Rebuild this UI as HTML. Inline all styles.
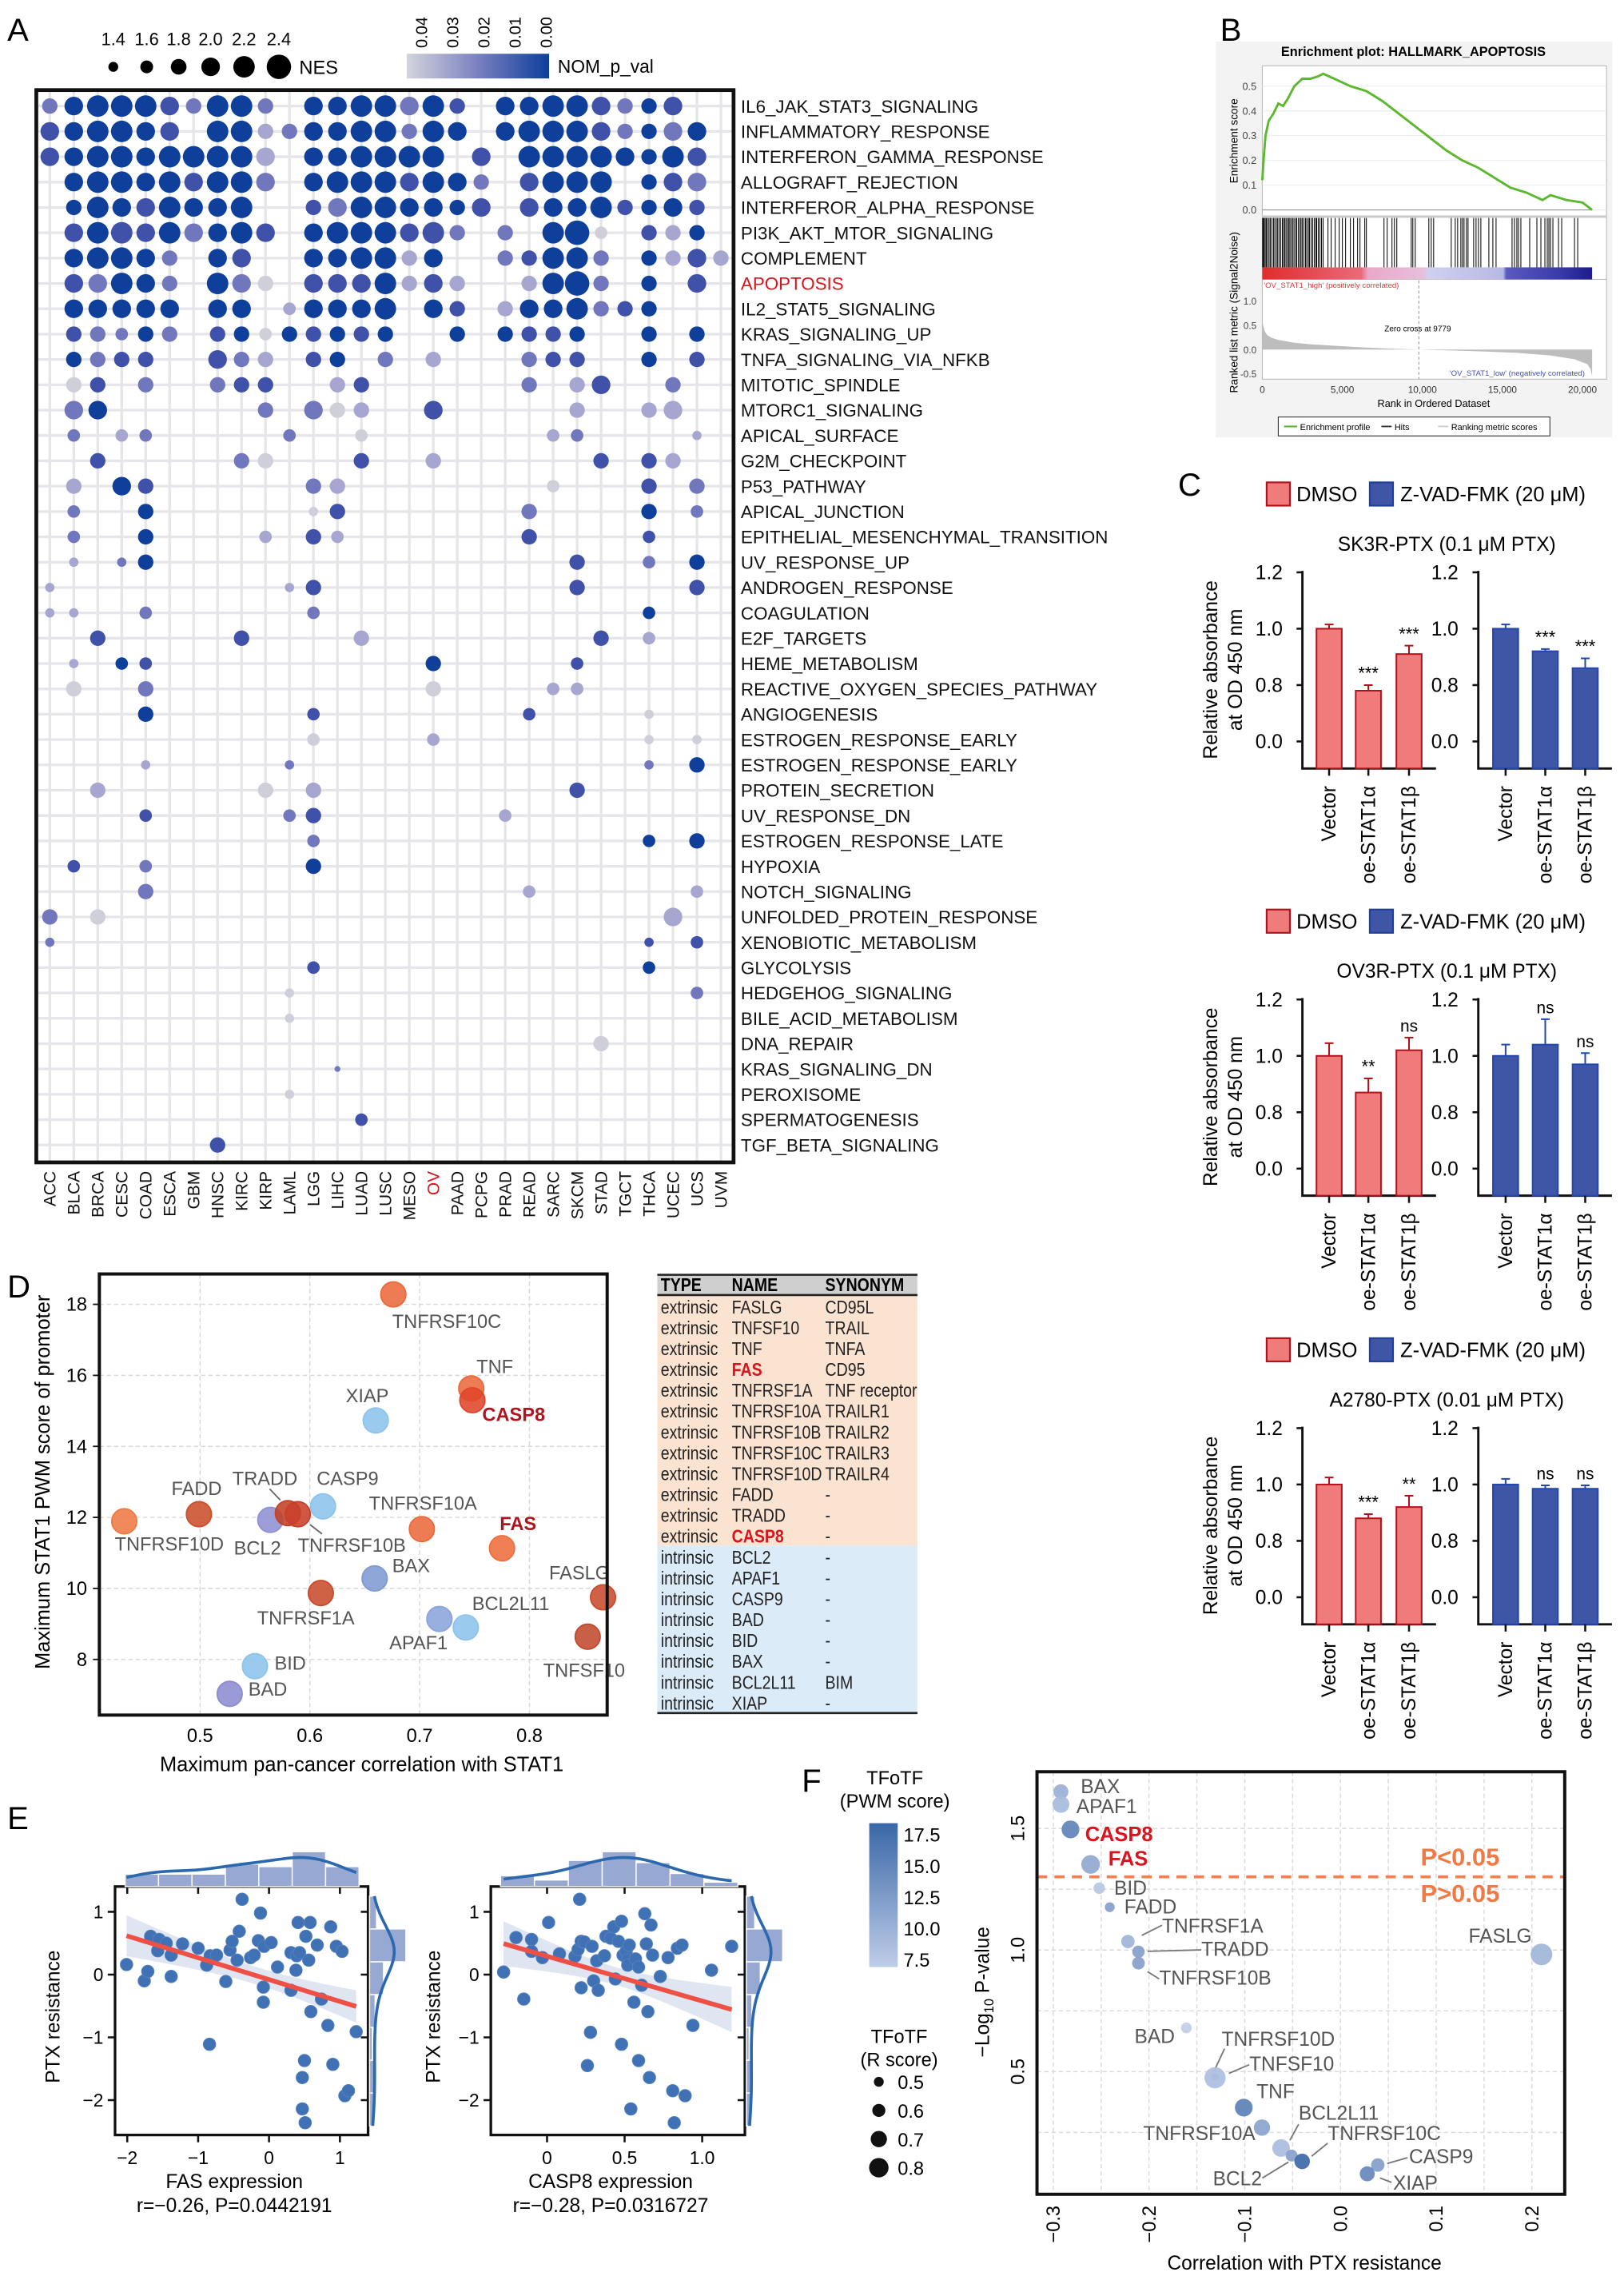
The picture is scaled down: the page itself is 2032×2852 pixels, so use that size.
<!DOCTYPE html>
<html><head><meta charset="utf-8"><title>Figure</title>
<style>
html,body{margin:0;padding:0;background:#fff;}
svg{display:block;font-family:"Liberation Sans",Arial,sans-serif;}
</style></head>
<body>
<svg id="fig" xmlns="http://www.w3.org/2000/svg" width="2032" height="2852" viewBox="0 0 1118 1569.2" preserveAspectRatio="none">
<defs>
<linearGradient id="pvalGrad" x1="0" x2="1" y1="0" y2="0"><stop offset="0" stop-color="#d4d4dc"/><stop offset="0.5" stop-color="#7a80c0"/><stop offset="1" stop-color="#0d3f9b"/></linearGradient>
<linearGradient id="rankGrad" x1="0" x2="1" y1="0" y2="0">
<stop offset="0" stop-color="#e02c2c"/><stop offset="0.3" stop-color="#ea6a7a"/><stop offset="0.32" stop-color="#eba7c8"/><stop offset="0.49" stop-color="#e6c0dc"/><stop offset="0.5" stop-color="#d0d0f0"/><stop offset="0.73" stop-color="#b8b8e6"/><stop offset="0.74" stop-color="#5a5ac0"/><stop offset="0.9" stop-color="#3a3aaa"/><stop offset="1" stop-color="#1c1c8c"/></linearGradient>
<linearGradient id="pwmGrad" x1="0" x2="0" y1="1" y2="0"><stop offset="0" stop-color="#bfcde8"/><stop offset="1" stop-color="#3a67a7"/></linearGradient>
</defs>
<text x="5" y="28" font-size="22">A</text>
<text x="840" y="28" font-size="22">B</text>
<text x="811" y="341" font-size="22">C</text>
<text x="5" y="893" font-size="22">D</text>
<text x="5" y="1259" font-size="22">E</text>
<text x="552" y="1233" font-size="22">F</text>
<g id="gA"></g>
<g id="gB"></g>
<g id="gC"></g>
<g id="gD"></g>
<g id="gT"></g>
<g id="gE"></g>
<g id="gF"></g>
</svg>
<script>
const NS='http://www.w3.org/2000/svg';
function mk(tag,attrs,parent){const e=document.createElementNS(NS,tag);for(const k in attrs)e.setAttribute(k,attrs[k]);parent.appendChild(e);return e;}
function tx(str,attrs,parent){const e=mk('text',attrs,parent);e.textContent=str;return e;}

/* ================= PANEL A DATA ================= */
const pathways=['IL6_JAK_STAT3_SIGNALING','INFLAMMATORY_RESPONSE','INTERFERON_GAMMA_RESPONSE','ALLOGRAFT_REJECTION','INTERFEROR_ALPHA_RESPONSE','PI3K_AKT_MTOR_SIGNALING','COMPLEMENT','APOPTOSIS','IL2_STAT5_SIGNALING','KRAS_SIGNALING_UP','TNFA_SIGNALING_VIA_NFKB','MITOTIC_SPINDLE','MTORC1_SIGNALING','APICAL_SURFACE','G2M_CHECKPOINT','P53_PATHWAY','APICAL_JUNCTION','EPITHELIAL_MESENCHYMAL_TRANSITION','UV_RESPONSE_UP','ANDROGEN_RESPONSE','COAGULATION','E2F_TARGETS','HEME_METABOLISM','REACTIVE_OXYGEN_SPECIES_PATHWAY','ANGIOGENESIS','ESTROGEN_RESPONSE_EARLY','ESTROGEN_RESPONSE_EARLY','PROTEIN_SECRETION','UV_RESPONSE_DN','ESTROGEN_RESPONSE_LATE','HYPOXIA','NOTCH_SIGNALING','UNFOLDED_PROTEIN_RESPONSE','XENOBIOTIC_METABOLISM','GLYCOLYSIS','HEDGEHOG_SIGNALING','BILE_ACID_METABOLISM','DNA_REPAIR','KRAS_SIGNALING_DN','PEROXISOME','SPERMATOGENESIS','TGF_BETA_SIGNALING'];
const cancers=['ACC','BLCA','BRCA','CESC','COAD','ESCA','GBM','HNSC','KIRC','KIRP','LAML','LGG','LIHC','LUAD','LUSC','MESO','OV','PAAD','PCPG','PRAD','READ','SARC','SKCM','STAD','TGCT','THCA','UCEC','UCS','UVM'];
const nesLevels=[
"3455543553.4455453.44554334.","445544.55334455354.455543344.","4455455554.445555.4.55554354.",".455454554.45554543.4555.344.",
".35445445..34554434.44453343.",".455454454.4555453.3.562.333.",".45543.44..445534..33553.3343",".44543.543.4445343..3563.3.4.",
".44444.44.24445.43.3445333...",".33233.33233333..3.3333..3.3.",".3333..433.33.3.3...333..3.3.",".33.3..333..33......3.34..3..",
".44......3.433..4.....3..34..",".2.22.....2..2.......22....1.","..3.....33...3..3......3.33..",".3.43......33........2...3.3.",
".2..3......13.......3....3.2.",".2..3....2.32.......3....2...",".1.13.................3..2.3.","1.........13..........3....3.",
"11..2......2.............2...","..3.....3....3.........3.2...",".1.22...........3.....2......",".3..3...........3....22......",
"....3......2........2....1...","...........2....2........1.1.","....1.....1..............1.3.","..3......3.3..........3......",
"....2.....23.......2.........","...........2.............2.3.",".2..2......3.................","....3...............2......2.",
"3.3.......................4..","1........................1.2.","...........2.............2...","..........1................2.",
"..........1..................",".......................3.....","............0................","..........1..................",
".............2...............",".......3....................."];
const pvalLevels=[
"2444432442.4444243.444432433.","344443.44124444244.444432424.","3444444441.444444.3.44444443.",".444443442.44443442.3444.432.",
".44434444..32444443.34443443.",".343342443.4444332.2.440.314.",".44442.43..444414..23442.4131",".32442.420.3334131..1442.4.3.",
".44444.44.14444.43.1444234...",".32242.34043434..4.4334..4.4.",".4233..321.34.2.1...233..4.3.",".03.2..233..13......2.13..2..",
".24......2.201..3.....1..11..",".2.12.....2..0.......12....1.","..3.....20...3..1......3.31..",".1.43......21........0...3.2.",
".2..4......03.......2....4.2.",".2..4....1.31.......3....3...",".1.24.................3..2.4.","1.........13..........3....3.",
"11..2......2.............4...","..3.....3....1.........3.1...",".1.43...........4.....3......",".0..2...........0....11......",
"....4......3........3....0...","...........0....1........0.0.","....1.....2..............2.4.","..1......0.1..........3......",
"....3.....23.......1.........","...........2.............4.4.",".3..2......4.................","....2...............1......1.",
"2.0.......................1..","2........................3.3.","...........3.............4...","..........0................2.",
"..........0..................",".......................0.....","............2................","..........0..................",
".............3...............",".......3....................."];
const nesLegend=['1.4','1.6','1.8','2.0','2.2','2.4'];
const pvalTicks=['0.04','0.03','0.02','0.01','0.00'];

/* ================= PANEL B DATA ================= */
const esRank=[0,100,200,400,700,1000,1300,1600,2000,2500,3000,3500,3800,4500,5500,6500,7500,8500,9500,10500,11500,12500,13500,14500,15500,16500,17500,18000,19000,20000,20600];
const esScore=[0.12,0.22,0.30,0.36,0.39,0.43,0.42,0.45,0.50,0.53,0.53,0.54,0.55,0.53,0.50,0.48,0.44,0.39,0.34,0.29,0.24,0.20,0.17,0.13,0.09,0.07,0.04,0.06,0.04,0.03,0.0];
const hitRanks=[20,60,110,180,250,330,420,500,600,700,780,880,960,1050,1150,1250,1320,1400,1480,1560,1650,1720,1800,1900,1980,2080,2150,2250,2350,2420,2500,2600,2700,2780,2880,2950,3050,3150,3250,3350,3400,3500,3600,3700,3800,4100,4300,4550,4800,5000,5200,5500,5700,5950,6100,6400,6500,7600,7800,8100,8250,8400,9300,9400,9550,10400,10550,10700,11800,12050,12200,12400,12500,12600,12750,12850,13200,13350,13500,13650,14150,14400,14600,15600,15750,15900,16000,16150,16700,17150,17400,17650,17800,17900,18000,18150,18500,18700,19500,19700];
const metricRank=[0,50,150,300,600,1000,2000,3000,4000,6000,8000,9779,12000,14000,16000,18000,19500,20300,20500,20600];
const metricVal=[0.65,0.5,0.38,0.3,0.24,0.2,0.14,0.11,0.09,0.05,0.02,0,-0.02,-0.04,-0.07,-0.12,-0.2,-0.3,-0.4,-0.55];
const esTicks=[0.0,0.1,0.2,0.3,0.4,0.5];
const rankTicks=[0,5000,10000,15000,20000];
const rankTickLabels=['0','5,000','10,000','15,000','20,000'];
const metricTicks=[1.0,0.5,0.0,-0.5];

/* ================= PANEL C DATA ================= */
const cCats=['Vector','oe-STAT1\u03b1','oe-STAT1\u03b2'];
const cTitles=['SK3R-PTX (0.1 \u03bcM PTX)','OV3R-PTX (0.1 \u03bcM PTX)','A2780-PTX (0.01 \u03bcM PTX)'];
const dmsoMeans=[[1.0,0.78,0.91],[1.0,0.87,1.02],[1.0,0.88,0.92]];
const dmsoErr=[[0.015,0.02,0.03],[0.045,0.05,0.045],[0.025,0.015,0.04]];
const zvadMeans=[[1.0,0.92,0.86],[1.0,1.04,0.97],[1.0,0.985,0.985]];
const zvadErr=[[0.015,0.008,0.035],[0.04,0.09,0.04],[0.02,0.012,0.012]];
const dmsoSig=[['','***','***'],['','**','ns'],['','***','**']];
const zvadSig=[['','***','***'],['','ns','ns'],['','ns','ns']];
const cTickVals=[1.2,1.0,0.8,0.6];
const cTickLabels=['1.2','1.0','0.8','0.0'];

/* ================= PANEL D DATA ================= */
const dGenes=['TNFRSF10C','TNF','CASP8','XIAP','FADD','TNFRSF10D','BCL2','TRADD','TNFRSF10B','CASP9','TNFRSF10A','FAS','BAX','TNFRSF1A','FASLG','APAF1','BCL2L11','TNFSF10','BID','BAD'];
const dCorr=[0.676,0.747,0.748,0.660,0.499,0.431,0.564,0.580,0.589,0.612,0.702,0.775,0.659,0.610,0.867,0.718,0.742,0.853,0.550,0.527];
const dPwm=[18.28,15.63,15.30,14.73,12.09,11.89,11.93,12.12,12.09,12.31,11.67,11.13,10.28,9.87,9.75,9.14,8.90,8.64,7.81,7.03];
const dXTicks=[0.5,0.6,0.7,0.8];
const dYTicks=[8,10,12,14,16,18];
const tableType=['extrinsic','extrinsic','extrinsic','extrinsic','extrinsic','extrinsic','extrinsic','extrinsic','extrinsic','extrinsic','extrinsic','extrinsic','intrinsic','intrinsic','intrinsic','intrinsic','intrinsic','intrinsic','intrinsic','intrinsic'];
const tableName=['FASLG','TNFSF10','TNF','FAS','TNFRSF1A','TNFRSF10A','TNFRSF10B','TNFRSF10C','TNFRSF10D','FADD','TRADD','CASP8','BCL2','APAF1','CASP9','BAD','BID','BAX','BCL2L11','XIAP'];
const tableSyn=['CD95L','TRAIL','TNFA','CD95','TNF receptor','TRAILR1','TRAILR2','TRAILR3','TRAILR4','-','-','-','-','-','-','-','-','-','BIM','-'];

/* ================= PANEL E DATA ================= */
const fasExpr=[-2.01,-1.76,-1.71,-1.67,-1.55,-1.57,-1.45,-1.38,-1.38,-1.22,-1.0,-0.88,-0.84,-0.83,-0.74,-0.61,-0.55,-0.52,-0.45,-0.42,-0.38,-0.26,-0.21,-0.15,-0.12,-0.07,-0.08,-0.08,0.03,0.12,0.31,0.31,0.38,0.39,0.41,0.43,0.47,0.47,0.50,0.51,0.52,0.56,0.58,0.59,0.68,0.74,0.83,0.87,0.90,0.95,1.03,1.07,1.12,1.23];
const fasRes=[0.16,-0.10,0.05,0.61,0.56,0.38,0.50,0.31,-0.03,0.49,0.42,0.15,-1.11,0.30,0.31,-0.11,0.39,0.53,0.23,0.69,1.20,0.27,0.31,0.54,0.98,0.45,-0.20,-0.44,0.51,0.12,0.35,-0.25,0.07,0.30,0.83,0.35,-1.64,-2.14,-1.37,-2.36,0.61,0.23,0.83,-0.59,0.47,-0.39,-0.81,0.76,-1.43,0.45,0.37,-1.93,-1.85,-0.91];
const casp8Expr=[-0.28,-0.20,-0.15,-0.10,-0.10,-0.03,0.01,0.08,0.18,0.20,0.21,0.22,0.22,0.24,0.26,0.28,0.29,0.30,0.32,0.33,0.37,0.38,0.41,0.43,0.44,0.46,0.48,0.48,0.49,0.51,0.52,0.52,0.53,0.54,0.56,0.57,0.59,0.59,0.61,0.63,0.64,0.65,0.66,0.67,0.68,0.73,0.78,0.81,0.82,0.84,0.87,0.89,0.94,1.06,1.19];
const casp8Res=[0.04,0.59,-0.39,0.56,0.37,0.27,0.83,0.33,0.29,0.40,1.20,-0.21,0.53,0.52,-1.45,-0.92,0.45,-0.10,0.22,-0.25,0.30,0.61,0.58,0.76,-0.07,0.53,0.85,-1.11,0.31,0.37,0.23,0.15,0.47,-2.14,-0.44,0.25,-1.37,0.12,-0.17,0.97,0.49,-0.59,-1.64,0.79,0.31,-0.03,0.27,-1.85,-2.36,0.42,0.47,-1.93,-0.81,0.07,0.45];
const fasXTicks=[-2,-1,0,1];
const fasXLabels=['\u22122','\u22121','0','1'];
const casp8XTicks=[0,0.5,1.0];
const casp8XLabels=['0','0.5','1.0'];
const resTicks=[1,0,-1,-2];
const resLabels=['1','0','\u22121','\u22122'];

/* ================= PANEL F DATA ================= */
const fGenes=['BAX','APAF1','CASP8','FAS','BID','FADD','TNFRSF1A','TRADD','TNFRSF10B','FASLG','BAD','TNFRSF10D','TNFSF10','TNF','TNFRSF10A','BCL2L11','BCL2','TNFRSF10C','CASP9','XIAP'];
const fCorrPTX=[-0.292,-0.292,-0.282,-0.261,-0.252,-0.241,-0.222,-0.211,-0.211,0.210,-0.161,-0.131,-0.131,-0.101,-0.082,-0.062,-0.051,-0.040,0.039,0.028];
const fNegLogP=[1.651,1.599,1.496,1.352,1.254,1.176,1.035,0.993,0.946,0.982,0.680,0.479,0.475,0.352,0.270,0.186,0.155,0.131,0.116,0.080];
const fXTicks=[-0.3,-0.2,-0.1,0.0,0.1,0.2];
const fXLabels=['\u22120.3','\u22120.2','\u22120.1','0.0','0.1','0.2'];
const fYTicks=[0.5,1.0,1.5];
const pwmLegendTicks=[7.5,10.0,12.5,15.0,17.5];
const rLegendTicks=[0.5,0.6,0.7,0.8];

/* ================= DRAW PANEL A ================= */
(function(){
const g=document.getElementById('gA');
const colX=i=>34.3+16.5*i, rowY=j=>73+17.44*j;
const rad=[2,3.2,4.3,5.3,6.4,7.4,8.4];
const cols=['#cfcfda','#a6a6d0','#7177bd','#3f51a8','#0d3f9b'];
for(let i=0;i<cancers.length;i++){const l=mk('line',{x1:colX(i),x2:colX(i),y1:62,y2:800,stroke:'#e5e5ea','stroke-width':1.8},g);

}
for(let j=0;j<pathways.length;j++){const l=mk('line',{x1:25,x2:505,y1:rowY(j),y2:rowY(j),stroke:'#e5e5ea','stroke-width':1.8},g);

}
for(let j=0;j<pathways.length;j++){
 for(let i=0;i<cancers.length;i++){
  const s=nesLevels[j].charAt(i); if(s===''||s==='.')continue;
  const p=pvalLevels[j].charAt(i); const ci=(p===''||p==='.')?2:+p;
  const c=mk('circle',{cx:colX(i),cy:rowY(j),r:rad[+s],fill:cols[ci]},g);
  
  
 }
 const t=tx(pathways[j],{x:510,y:rowY(j)+4.5,'font-size':12.3,fill:pathways[j]==='APOPTOSIS'?'#d8141c':'#111'},g);
 
 
}
const box=mk('rect',{x:25,y:62,width:480,height:738,fill:'none',stroke:'#111','stroke-width':2.6},g);


for(let i=0;i<cancers.length;i++){
 const t=tx(cancers[i],{x:0,y:0,'font-size':11.5,'text-anchor':'end',transform:`translate(${colX(i)+4},806) rotate(-90)`,fill:cancers[i]==='OV'?'#d8141c':'#111'},g);
 
 
}
const lx=[78,101,123,145,168,192];
for(let k=0;k<nesLegend.length;k++){
 const c=mk('circle',{cx:lx[k],cy:46,r:[3.4,4.4,5.4,6.4,7.4,8.4][k],fill:'#000'},g);
 
 
 const t=tx(nesLegend[k],{x:lx[k],y:31,'font-size':12,'text-anchor':'middle'},g);
 
 
}
const nt=tx('NES',{x:206,y:51,'font-size':13},g);


const cb=mk('rect',{x:280,y:37,width:98,height:17,fill:'url(#pvalGrad)'},g);


for(let k=0;k<pvalTicks.length;k++){
 const x=290+k*21.5;
 const t=tx(pvalTicks[k],{x:0,y:0,'font-size':11,transform:`translate(${x+4},33) rotate(-90)`},g);
 
 
}
const pt=tx('NOM_p_val',{x:384,y:50,'font-size':12.5},g);


})();

/* ================= DRAW PANEL B ================= */
(function(){
const g=document.getElementById('gB');
const X=r=>869+r*0.011022, Y=v=>144.5-v*170.4, M=v=>240.6-v*33.4;
const bg=mk('rect',{x:837,y:28.6,width:273,height:272.4,fill:'#f3f3f3'},g);


const t=tx('Enrichment plot: HALLMARK_APOPTOSIS',{x:973,y:38.5,'font-size':9,'font-weight':'bold','text-anchor':'middle'},g);


const top=mk('rect',{x:869,y:45.3,width:237,height:103.3,fill:'#fff',stroke:'#bbb','stroke-width':0.6},g);


const mid=mk('rect',{x:869,y:149.5,width:237,height:42.8,fill:'#fff',stroke:'#bbb','stroke-width':0.6},g);


const bot=mk('rect',{x:869,y:192.3,width:237,height:68.7,fill:'#fff',stroke:'#bbb','stroke-width':0.6},g);


for(const v of esTicks){
 const l=mk('line',{x1:869,x2:1106,y1:Y(v),y2:Y(v),stroke:'#e8e8e8','stroke-width':0.5},g);
 
 
 const tt=tx(v.toFixed(1),{x:865,y:Y(v)+2.5,'font-size':7,'text-anchor':'end',fill:'#444'},g);
 
 
}
let d='';
for(let k=0;k<esRank.length;k++)d+=(k?'L':'M')+X(esRank[k]).toFixed(2)+','+Y(esScore[k]).toFixed(2);
const es=mk('path',{d:d,fill:'none',stroke:'#5cb82e','stroke-width':1.6},g);


const z=mk('line',{x1:869,x2:1095,y1:Y(0),y2:Y(0),stroke:'#888','stroke-width':0.6},g);


for(const r of hitRanks){
 const l=mk('line',{x1:X(r),x2:X(r),y1:150,y2:184,stroke:'#111','stroke-width':0.6},g);
 
 
}
const rb=mk('rect',{x:869,y:184,width:X(20600)-869,height:8.3,fill:'url(#rankGrad)'},g);


let md='M'+X(0)+','+M(0);
for(let k=0;k<metricRank.length;k++)md+='L'+X(metricRank[k]).toFixed(2)+','+M(metricVal[k]).toFixed(2);
md+='L'+X(20600)+','+M(0)+'Z';
const mp=mk('path',{d:md,fill:'#bdbdbd'},g);


for(const v of metricTicks){
 const tt=tx(v.toFixed(1),{x:865,y:M(v)+2.5,'font-size':6.5,'text-anchor':'end',fill:'#444'},g);
 
 
}
const zc=mk('line',{x1:X(9779),x2:X(9779),y1:193,y2:261,stroke:'#999','stroke-width':0.6,'stroke-dasharray':'2,1.5'},g);


const zt=tx('Zero cross at 9779',{x:976,y:228,'font-size':5.5,'text-anchor':'middle'},g);


const hl=tx("'OV_STAT1_high' (positively correlated)",{x:870,y:198,'font-size':5.3,fill:'#e0383a'},g);


const ll=tx("'OV_STAT1_low' (negatively correlated)",{x:1091,y:258.5,'font-size':5.3,fill:'#4452b0','text-anchor':'end'},g);


for(let k=0;k<rankTicks.length;k++){
 const tt=tx(rankTickLabels[k],{x:X(rankTicks[k]),y:270.5,'font-size':6.5,'text-anchor':'middle',fill:'#333'},g);
 
 
}
const xt=tx('Rank in Ordered Dataset',{x:987,y:280,'font-size':7,'text-anchor':'middle'},g);


const y1=tx('Enrichment score',{x:0,y:0,'font-size':7.5,'text-anchor':'middle',transform:'translate(852,97) rotate(-90)'},g);


const y2=tx('Ranked list metric (Signal2Noise)',{x:0,y:0,'font-size':7.5,'text-anchor':'middle',transform:'translate(852,215) rotate(-90)'},g);


const lg=mk('rect',{x:880,y:287,width:187,height:13,fill:'#fff',stroke:'#333','stroke-width':0.6},g);


const l1=mk('line',{x1:884,x2:893,y1:293.5,y2:293.5,stroke:'#5cb82e','stroke-width':1.2},g);


const lt1=tx('Enrichment profile',{x:895,y:296,'font-size':6},g);


const l2=mk('line',{x1:951,x2:958,y1:293.5,y2:293.5,stroke:'#333','stroke-width':1},g);


const lt2=tx('Hits',{x:960,y:296,'font-size':6},g);


const l3=mk('line',{x1:990,x2:997,y1:293.5,y2:293.5,stroke:'#ccc','stroke-width':1},g);


const lt3=tx('Ranking metric scores',{x:999,y:296,'font-size':6},g);


})();

/* ================= DRAW PANEL C ================= */
(function(){
const g=document.getElementById('gC');
const offs=[0,294,589];
const groups=[{ax:896.6,bars:[915,942,970],end:988.6,means:dmsoMeans,err:dmsoErr,sig:dmsoSig,fill:'#ef7c7a',stroke:'#b3121c',name:'dmso',lab:883},
              {ax:1017.7,bars:[1036.5,1063.8,1091.3],end:1109.7,means:zvadMeans,err:zvadErr,sig:zvadSig,fill:'#3f55a6',stroke:'#2347ad',name:'zvad',lab:1004}];
for(let p=0;p<3;p++){
 const o=offs[p];
 const Y=v=>432.7+o-(v-1.0)*194;
 const base=528.9+o;
 const b1=mk('rect',{x:872,y:332+o,width:16,height:16,fill:'#ef7c7a',stroke:'#b3121c','stroke-width':1.2},g);
 
 
 const t1=tx('DMSO',{x:892.5,y:345+o,'font-size':14},g);
 
 
 const b2=mk('rect',{x:943,y:332+o,width:16,height:16,fill:'#3f55a6',stroke:'#1f3f98','stroke-width':1.2},g);
 
 
 const t2=tx('Z-VAD-FMK (20 \u03bcM)',{x:964,y:345+o,'font-size':14},g);
 
 
 const tt=tx(cTitles[p],{x:996,y:379+o,'font-size':13.5,'text-anchor':'middle'},g);
 
 
 const ya=tx('Relative absorbance',{x:0,y:0,'font-size':13.5,'text-anchor':'middle',transform:`translate(838,${461+o}) rotate(-90)`},g);
 
 
 const yb=tx('at OD 450 nm',{x:0,y:0,'font-size':13.5,'text-anchor':'middle',transform:`translate(855,${461+o}) rotate(-90)`},g);
 
 
 for(const G of groups){
  const ax=mk('path',{d:`M${G.ax},${Y(1.2)-1}L${G.ax},${base}L${G.end},${base}`,fill:'none',stroke:'#111','stroke-width':1.6},g);
  
  
  for(let k=0;k<cTickVals.length;k++){
   const tk=mk('line',{x1:G.ax-4,x2:G.ax,y1:Y(cTickVals[k]),y2:Y(cTickVals[k]),stroke:'#111','stroke-width':1.4},g);
   
   
   const tl=tx(cTickLabels[k],{x:G.lab,y:Y(cTickVals[k])+4.8,'font-size':13.5,'text-anchor':'end'},g);
   
   
  }
  for(let b=0;b<3;b++){
   const cx=G.bars[b], v=G.means[p][b], e=G.err[p][b];
   const r=mk('rect',{x:cx-8.7,y:Y(v),width:17.4,height:base-Y(v),fill:G.fill,stroke:G.stroke,'stroke-width':1.1},g);
   
   
   const eb=mk('path',{d:`M${cx},${Y(v)}L${cx},${Y(v+e)}M${cx-3},${Y(v+e)}L${cx+3},${Y(v+e)}`,stroke:G.stroke,'stroke-width':1.1,fill:'none'},g);
   
   
   if(G.sig[p][b]){
    const st=tx(G.sig[p][b],{x:cx,y:Y(v+e)-4,'font-size':G.sig[p][b]==='ns'?11.5:12,'text-anchor':'middle'},g);
    
    
   }
   const xt=mk('line',{x1:cx,x2:cx,y1:base,y2:base+5,stroke:'#111','stroke-width':1.4},g);
   
   
   const cl=tx(cCats[b],{x:0,y:0,'font-size':13.5,'text-anchor':'end',transform:`translate(${cx+4.5},${base+12}) rotate(-90)`},g);
   
   
  }
 }
}
})();

/* ================= DRAW PANEL D ================= */
const dColor={TNFRSF10C:'#ea6a3c',TNF:'#ea6a3c',CASP8:'#e0462a',XIAP:'#8cc4ec',FADD:'#cc4f2c',TNFRSF10D:'#ee7a44',BCL2:'#9090d2',TRADD:'#c24128',TNFRSF10B:'#c8402a',CASP9:'#8cc4ec',TNFRSF10A:'#ea6a3c',FAS:'#ee6e3c',BAX:'#7f9ad4',TNFRSF1A:'#c84c2c',FASLG:'#c84c2c',APAF1:'#8aa4dc',BCL2L11:'#8cc4ec',TNFSF10:'#c04a2e',BID:'#8cc4ec',BAD:'#8c8cd0'};
const dLabelPos={TNFRSF10C:[270,914],TNF:[328,945],CASP8:[332,978],XIAP:[238,965],FADD:[118,1029],TNFRSF10D:[79,1067],BCL2:[161,1070],TRADD:[160,1022],TNFRSF10B:[205,1068],CASP9:[218,1022],TNFRSF10A:[254,1039],FAS:[344,1053],BAX:[270,1082],TNFRSF1A:[177,1118],FASLG:[378,1087],APAF1:[268,1135],BCL2L11:[325,1108],TNFSF10:[374,1154],BID:[189,1149],BAD:[171,1167]};
(function(){
const g=document.getElementById('gD');
const X=v=>137.7+(v-0.5)*756, Y=v=>897.7-(v-18)*24.44;
for(const v of dXTicks){
 const l=mk('line',{x1:X(v),x2:X(v),y1:877,y2:1180,stroke:'#d8d8d8','stroke-width':0.8,'stroke-dasharray':'3,2'},g);
 
 
 const t=tx(v.toFixed(1),{x:X(v),y:1199,'font-size':13,'text-anchor':'middle'},g);
 
 
}
for(const v of dYTicks){
 const l=mk('line',{x1:68.4,x2:418,y1:Y(v),y2:Y(v),stroke:'#d8d8d8','stroke-width':0.8,'stroke-dasharray':'3,2'},g);
 
 
 const tk=mk('line',{x1:64,x2:68.4,y1:Y(v),y2:Y(v),stroke:'#111','stroke-width':1},g);
 
 
 const t=tx(String(v),{x:60,y:Y(v)+4.5,'font-size':13,'text-anchor':'end'},g);
 
 
}
const lines=[[185.6,1024.7,193,1032.5],[213.5,1049.4,221.7,1055.7]];
for(const L of lines){const l=mk('line',{x1:L[0],y1:L[1],x2:L[2],y2:L[3],stroke:'#666','stroke-width':1},g);
 
 }
for(let k=0;k<dGenes.length;k++){
 const c=mk('circle',{cx:X(dCorr[k]),cy:Y(dPwm[k]),r:8.6,fill:dColor[dGenes[k]],'fill-opacity':0.88,stroke:dColor[dGenes[k]],'stroke-width':1},g);
 
 
 const bold=(dGenes[k]==='CASP8'||dGenes[k]==='FAS');
 const p=dLabelPos[dGenes[k]];
 const t=tx(dGenes[k],{x:p[0],y:p[1],'font-size':13,fill:bold?'#b0141e':'#555','font-weight':bold?'bold':'normal'},g);
 
 
}
const box=mk('rect',{x:68.4,y:876.8,width:349.6,height:303.6,fill:'none',stroke:'#111','stroke-width':2.2},g);


const yt=tx('Maximum STAT1 PWM score of promoter',{x:0,y:0,'font-size':14,'text-anchor':'middle',transform:'translate(34,1020) rotate(-90)'},g);


const xt=tx('Maximum pan-cancer correlation with STAT1',{x:249,y:1219,'font-size':14,'text-anchor':'middle'},g);


})();

/* ================= DRAW TABLE ================= */
(function(){
const g=document.getElementById('gT');
const rowB=k=>903.9+k*14.35;
const e=mk('rect',{x:452.5,y:891.3,width:179,height:172.4,fill:'#fbe3d2'},g);


const i=mk('rect',{x:452.5,y:1063.7,width:179,height:115,fill:'#dbebf8'},g);


const h=mk('rect',{x:452.5,y:877.4,width:179,height:13.9,fill:'#cfcfcf'},g);


const heads=[['TYPE',454.9],['NAME',503.8],['SYNONYM',568.1]];
for(const hd of heads){const t=tx(hd[0],{x:0,y:0,'font-size':12.5,'font-weight':'bold',transform:`translate(${hd[1]},888.6) scale(0.86,1)`},g);
 
 }
for(const y of [877.4,891.3,1179]){const l=mk('line',{x1:452.5,x2:631.6,y1:y,y2:y,stroke:'#222','stroke-width':1.4},g);
 
 }
for(let k=0;k<tableName.length;k++){
 const a=tx(tableType[k],{x:0,y:0,'font-size':12.5,fill:'#222',transform:`translate(454.9,${rowB(k)}) scale(0.86,1)`},g);
 
 
 const red=(tableName[k]==='FAS'||tableName[k]==='CASP8');
 const b=tx(tableName[k],{x:0,y:0,'font-size':12.5,fill:red?'#d8141c':'#222','font-weight':red?'bold':'normal',transform:`translate(503.8,${rowB(k)}) scale(0.86,1)`},g);
 
 
 const c=tx(tableSyn[k],{x:0,y:0,'font-size':12.5,fill:'#222',transform:`translate(568.1,${rowB(k)}) scale(0.86,1)`},g);
 
 
}
})();

/* ================= DRAW PANEL E ================= */
(function(){
const g=document.getElementById('gE');
const Y=v=>1359.0-v*43.2;
const top=1298.4, bottom=1469.4;
function plot(xs,ys,X,x0,x1,xTicks,xLabels,title,stat,name,ytx){
 const n=xs.length; let mx=0,my=0; for(let k=0;k<n;k++){mx+=xs[k];my+=ys[k];} mx/=n; my/=n;
 let sxx=0,sxy=0; for(let k=0;k<n;k++){sxx+=(xs[k]-mx)**2;sxy+=(xs[k]-mx)*(ys[k]-my);}
 const b=sxy/sxx,a=my-b*mx; let sse=0; for(let k=0;k<n;k++)sse+=(ys[k]-a-b*xs[k])**2; const s=Math.sqrt(sse/(n-2));
 const xmin=Math.min(...xs),xmax=Math.max(...xs);
 let up='',dn=[];
 for(let q=0;q<=20;q++){const xv=xmin+(xmax-xmin)*q/20; const hw=1.3*s*Math.sqrt(1/n+(xv-mx)**2/sxx); const yv=a+b*xv;
  up+=(q?'L':'M')+X(xv).toFixed(2)+','+Y(yv+hw).toFixed(2); dn.unshift('L'+X(xv).toFixed(2)+','+Y(yv-hw).toFixed(2));}
 const band=mk('path',{d:up+dn.join('')+'Z',fill:'#c9d3e8','fill-opacity':0.6},g);
 
 
 for(let k=0;k<n;k++){
  const c=mk('circle',{cx:X(xs[k]),cy:Y(ys[k]),r:4.3,fill:'#3f71b4',stroke:'#5582c0','stroke-width':0.5},g);
  
  
 }
 const rl=mk('line',{x1:X(xmin),y1:Y(a+b*xmin),x2:X(xmax),y2:Y(a+b*xmax),stroke:'#ee5045','stroke-width':3.2},g);
 
 
 const box=mk('rect',{x:x0,y:top,width:x1-x0,height:bottom-top,fill:'none',stroke:'#111','stroke-width':1.8},g);
 
 
 for(let k=0;k<xTicks.length;k++){
  const xx=X(xTicks[k]);
  const tk=mk('path',{d:`M${xx},${bottom}L${xx},${bottom+5}M${xx},${top}L${xx},${top+5}`,stroke:'#111','stroke-width':1.4},g);
  
  
  const tl=tx(xLabels[k],{x:xx,y:1489.4,'font-size':12.5,'text-anchor':'middle'},g);
  
  
 }
 for(let k=0;k<resTicks.length;k++){
  const yy=Y(resTicks[k]);
  const tk=mk('path',{d:`M${x0-5},${yy}L${x0},${yy}M${x1-5},${yy}L${x1},${yy}`,stroke:'#111','stroke-width':1.4},g);
  
  
  const tl=tx(resLabels[k],{x:x0-8,y:yy+4.5,'font-size':12.5,'text-anchor':'end'},g);
  
  
 }
 const nb=7, hmin=xmin-0.02, bw=(xmax-hmin+0.04)/nb, cnt=new Array(nb).fill(0);
 for(const v of xs){cnt[Math.min(nb-1,Math.floor((v-hmin)/bw))]++;}
 const cmax=Math.max(...cnt);
 for(let q=0;q<nb;q++){
  const h=cnt[q]/cmax*24;
  const r=mk('rect',{x:X(hmin+q*bw),y:top-h,width:X(hmin+(q+1)*bw)-X(hmin+q*bw),height:h,fill:'#97a8d2',stroke:'#fff','stroke-width':0.8},g);
  
  
 }
 const bwK=(xmax-xmin)*0.12; let kd=[],km=0;
 for(let q=0;q<=40;q++){const xv=xmin+(xmax-xmin)*q/40;let sm=0;for(const v of xs)sm+=Math.exp(-0.5*((xv-v)/bwK)**2);kd.push([xv,sm]);km=Math.max(km,sm);}
 const kp=mk('path',{d:kd.map((p,q)=>(q?'L':'M')+X(p[0]).toFixed(2)+','+(top-p[1]/km*18-2).toFixed(2)).join(''),fill:'none',stroke:'#2b68ad','stroke-width':2},g);
 
 
 const ymin=Math.min(...ys)-0.05,ymax=Math.max(...ys)+0.05, rb=(ymax-ymin)/nb, rc=new Array(nb).fill(0);
 for(const v of ys){rc[Math.min(nb-1,Math.floor((v-ymin)/rb))]++;}
 const rmax=Math.max(...rc);
 for(let q=0;q<nb;q++){
  const w=rc[q]/rmax*25;
  const r=mk('rect',{x:x1+1,y:Y(ymin+(q+1)*rb),width:w,height:Y(ymin+q*rb)-Y(ymin+(q+1)*rb),fill:'#97a8d2',stroke:'#fff','stroke-width':0.8},g);
  
  
 }
 const bwY=(ymax-ymin)*0.09; let rk=[],rm=0;
 for(let q=0;q<=40;q++){const yv=ymin+(ymax-ymin)*q/40;let sm=0;for(const v of ys)sm+=Math.exp(-0.5*((yv-v)/bwY)**2);rk.push([yv,sm]);rm=Math.max(rm,sm);}
 const rp=mk('path',{d:rk.map((p,q)=>(q?'L':'M')+(x1+2+p[1]/rm*16).toFixed(2)+','+Y(p[0]).toFixed(2)).join(''),fill:'none',stroke:'#2b68ad','stroke-width':2},g);
 
 
 const xt=tx(title,{x:(x0+x1)/2-5,y:1506,'font-size':13.5,'text-anchor':'middle'},g);
 
 
 const sl=tx(stat,{x:(x0+x1)/2-5,y:1522.5,'font-size':13.5,'text-anchor':'middle'},g);
 
 
 const yt=tx('PTX resistance',{x:0,y:0,'font-size':13.5,'text-anchor':'middle',transform:`translate(${ytx},1388) rotate(-90)`},g);
 
 
}
plot(fasExpr,fasRes,v=>87.6+(v+2)*48.8,79.2,253.4,fasXTicks,fasXLabels,'FAS expression','r=\u22120.26, P=0.0442191','fas',41);
plot(casp8Expr,casp8Res,v=>376.6+v*106.8,337.9,512.8,casp8XTicks,casp8XLabels,'CASP8 expression','r=\u22120.28, P=0.0316727','casp8',303);
})();

/* ================= DRAW PANEL F ================= */
const fLabelPos={BAX:[744,1234],APAF1:[741,1248],CASP8:[747,1267],FAS:[763,1284],BID:[767,1304],FADD:[774,1317],TNFRSF1A:[800,1330],TRADD:[827,1346],TNFRSF10B:[798,1366],FASLG:[1011,1337],BAD:[781,1406],TNFRSF10D:[841,1408],TNFSF10:[860,1425],TNF:[865,1444],TNFRSF10A:[787,1473],BCL2L11:[894,1459],TNFRSF10C:[914,1473],CASP9:[970,1489],BCL2:[835,1504],XIAP:[959,1507]};
(function(){
const g=document.getElementById('gF');
const X=v=>725.1+(v+0.3)*659, Y=v=>1342.1-(v-1.0)*167.4;
const x0=713.9,x1=1077.2,y0=1219.4,y1=1510.2;
const rOf=r=>3.4+(r-0.5)*11, cOf=p=>{const t=Math.max(0,Math.min(1,(p-7)/11.5));const a=[0xc0,0xce,0xe8],b=[0x3a,0x66,0xa6];return 'rgb('+a.map((v,i)=>Math.round(v+(b[i]-v)*t)).join(',')+')';};
for(let v=-0.3;v<=0.2001;v+=0.05){
 const l=mk('line',{x1:X(v),x2:X(v),y1:y0,y2:y1,stroke:'#dadada','stroke-width':0.8,'stroke-dasharray':'3,2'},g);
 
 
}
for(let v=0.25;v<=1.5001;v+=0.25){
 const l=mk('line',{x1:x0,x2:x1,y1:Y(v),y2:Y(v),stroke:'#dadada','stroke-width':0.8,'stroke-dasharray':'3,2'},g);
 
 
}
const th=mk('line',{x1:x0,x2:x1,y1:Y(-Math.log10(0.05)),y2:Y(-Math.log10(0.05)),stroke:'#f08050','stroke-width':2,'stroke-dasharray':'7,5'},g);


const pl=tx('P<0.05',{x:978,y:1284,'font-size':17,'font-weight':'bold',fill:'#f07a45'},g);


const pg=tx('P>0.05',{x:978,y:1309,'font-size':17,'font-weight':'bold',fill:'#f07a45'},g);


const leaders=[[786,1332,800,1325],[790,1343,827,1342],[790,1357,798,1362],[843,1410,836,1425],[846,1427,860,1421],[894,1462,888,1473],[914,1475,903,1484],[969,1485,955,1489],[869,1499,887,1488],[950,1499,958,1502]];
for(const L of leaders){const l=mk('line',{x1:L[0],y1:L[1],x2:L[2],y2:L[3],stroke:'#777','stroke-width':1},g);
 
 }
for(let k=0;k<fGenes.length;k++){
 const di=dGenes.indexOf(fGenes[k]);
 const c=mk('circle',{cx:X(fCorrPTX[k]),cy:Y(fNegLogP[k]),r:rOf(dCorr[di]),fill:cOf(dPwm[di]),'fill-opacity':0.92},g);
 
 
 const bold=(fGenes[k]==='CASP8'||fGenes[k]==='FAS');
 const p=fLabelPos[fGenes[k]];
 const t=tx(fGenes[k],{x:p[0],y:p[1],'font-size':bold?14:13.5,fill:bold?'#d8141c':'#555','font-weight':bold?'bold':'normal'},g);
 
 
}
const box=mk('rect',{x:x0,y:y0,width:x1-x0,height:y1-y0,fill:'none',stroke:'#111','stroke-width':2.2},g);


for(let k=0;k<fXTicks.length;k++){
 const t=tx(fXLabels[k],{x:0,y:0,'font-size':13,'text-anchor':'end',transform:`translate(${X(fXTicks[k])+4.5},1518) rotate(-90)`},g);
 
 
}
for(const v of fYTicks){
 const t=tx(v.toFixed(1),{x:0,y:0,'font-size':13,'text-anchor':'middle',transform:`translate(705,${Y(v)}) rotate(-90)`},g);
 
 
}
const yt=tx('',{x:0,y:0,'font-size':13.5,'text-anchor':'middle',transform:'translate(681,1371) rotate(-90)'},g);


const s1=mk('tspan',{},yt); s1.textContent='\u2212Log';
const s2=mk('tspan',{'font-size':9,dy:3},yt); s2.textContent='10';
const s3=mk('tspan',{dy:-3},yt); s3.textContent=' P-value';
const xt=tx('Correlation with PTX resistance',{x:898,y:1562,'font-size':13.5,'text-anchor':'middle'},g);


const l1=tx('TFoTF',{x:616,y:1228,'font-size':13,'text-anchor':'middle'},g);


const l2=tx('(PWM score)',{x:616,y:1244,'font-size':13,'text-anchor':'middle'},g);


const cb=mk('rect',{x:598.4,y:1254.8,width:19.6,height:99,fill:'url(#pwmGrad)'},g);


const cbY=p=>1353.8-(p-6.9)/(18.4-6.9)*99;
for(const p of pwmLegendTicks){
 const t=tx(p.toFixed(1),{x:622,y:cbY(p)+5,'font-size':13},g);
 
 
}
const r1=tx('TFoTF',{x:619,y:1406,'font-size':13,'text-anchor':'middle'},g);


const r2=tx('(R score)',{x:619,y:1422,'font-size':13,'text-anchor':'middle'},g);


for(let k=0;k<rLegendTicks.length;k++){
 const yy=1432.8+k*19.7;
 const c=mk('circle',{cx:605,cy:yy,r:rOf(rLegendTicks[k]),fill:'#111'},g);
 
 
 const t=tx(rLegendTicks[k].toFixed(1),{x:618,y:yy+5,'font-size':13},g);
 
 
}
})();
</script>
</body></html>
